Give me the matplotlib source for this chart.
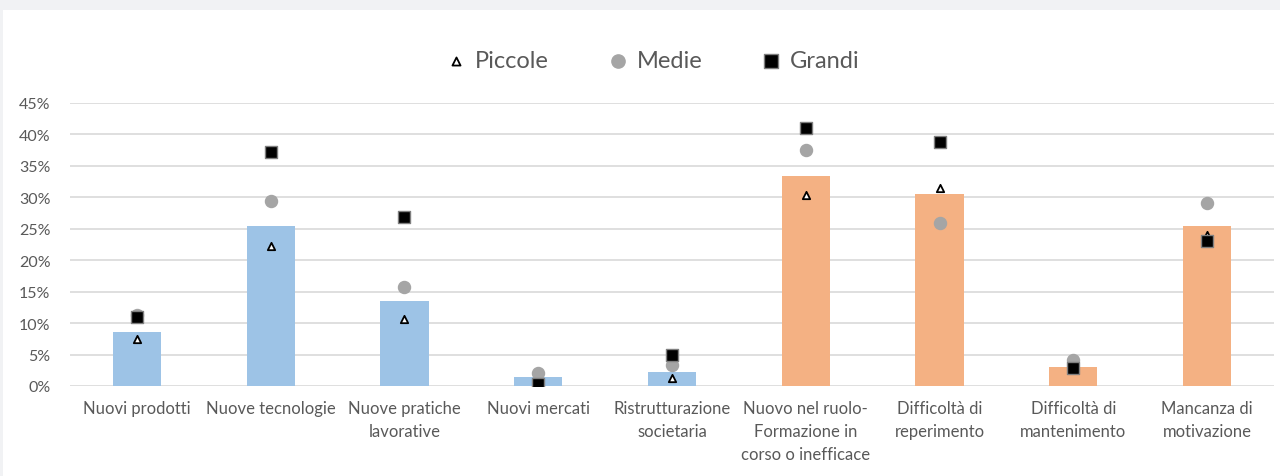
import matplotlib.pyplot as plt
import matplotlib.patches as patches
import numpy as np

categories = ['Nuovi prodotti', 'Nuove tecnologie', 'Nuove pratiche\nlavorative',
              'Nuovi mercati', 'Ristrutturazione\nsocietaria',
              'Nuovo nel ruolo-\nFormazione in\ncorso o inefficace',
              'Difficoltà di\nreperimento', 'Difficoltà di\nmantenimento',
              'Mancanza di\nmotivazione']
totale = [8.6, 25.4, 13.5, 1.4, 2.2, 33.4, 30.5, 3.0, 25.4]
piccole = [7.4, 22.3, 10.6, 0.3, 1.2, 30.3, 31.5, 2.8, 24.0]
medie = [11.3, 29.4, 15.8, 2.0, 3.3, 37.6, 25.9, 4.1, 29.1]
grandi = [10.9, 37.2, 26.8, 0.3, 5.0, 41.0, 38.8, 2.9, 23.1]
bar_colors = ['#9dc3e6'] * 5 + ['#f4b183'] * 4

plt.rcParams['font.family'] = ['Lato', 'DejaVu Sans']
text_color = '#595959'

fig = plt.figure(figsize=(12.8, 4.77), dpi=100, facecolor='#f1f2f4')
fig.patches.append(patches.Rectangle((3 / 1280, 0), 1, 1 - 11 / 477,
                                     transform=fig.transFigure, facecolor='white',
                                     edgecolor='none', zorder=-10))

ax = fig.add_axes([70 / 1280, 1 - 387 / 477, 1204 / 1280, 283 / 477])
ax.set_facecolor('none')

x = np.arange(len(categories))
frac = lambda v: np.asarray(v) / 100

ax.bar(x, frac(totale), width=0.36, color=bar_colors, zorder=2)
ax.scatter(x, frac(piccole), marker='^', s=28, facecolor='white', edgecolor='black',
           linewidth=1.3, zorder=3, label='Piccole')
ax.scatter(x, frac(medie), marker='o', s=75, color='#a5a5a5', zorder=4, label='Medie')
ax.scatter(x, frac(grandi), marker='s', s=85, facecolor='black', edgecolor='#7f7f7f',
           linewidth=1, zorder=5, label='Grandi')

ax.set_xlim(-0.5, len(categories) - 0.5)
ax.set_ylim(0, 0.45)
ax.set_yticks(np.arange(0, 0.46, 0.05))
ax.set_yticklabels([f'{int(round(t * 100))}%' for t in np.arange(0, 0.46, 0.05)])
ax.set_xticks(x)
ax.set_xticklabels(categories, linespacing=1.55)
ax.tick_params(axis='both', length=0, labelsize=11.5, colors=text_color)
ax.tick_params(axis='x', labelsize=12, pad=10)
ax.tick_params(axis='y', pad=14)
ax.grid(axis='y', color='#d9d9d9', linewidth=1.2, zorder=0)
ax.set_axisbelow(True)
for spine in ax.spines.values():
    spine.set_visible(False)

leg = fig.legend(loc='center', bbox_to_anchor=(652 / 1280, 1 - 62 / 477), ncol=3,
                 frameon=False, fontsize=17, columnspacing=2.4, handletextpad=0.3,
                 handlelength=1.0, scatterpoints=1, markerscale=1.1)
for t in leg.get_texts():
    t.set_color(text_color)

fig.savefig('out.png', dpi=100, facecolor=fig.get_facecolor())
